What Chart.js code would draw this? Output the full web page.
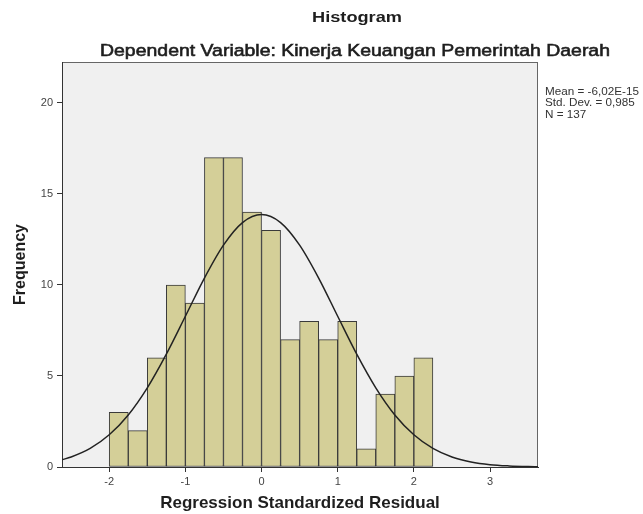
<!DOCTYPE html>
<html>
<head>
<meta charset="utf-8">
<script src="https://cdn.jsdelivr.net/npm/chart.js@4/dist/chart.umd.min.js"></script>
<style>
    body { margin: 0; background: #fff; }
    #wrap { width: 643px; height: 514px; }
</style>
</head>
<body>
<div id="wrap"><canvas id="histChart" width="643" height="514"></canvas></div>
<script>
// 数据
const binStarts = [-2, -1.75, -1.5, -1.25, -1, -0.75, -0.5, -0.25, 0, 0.25, 0.5, 0.75, 1, 1.25, 1.5, 1.75, 2];
const binWidth = 0.25;
const counts = [3, 2, 6, 10, 9, 17, 17, 14, 13, 7, 8, 7, 8, 1, 4, 5, 6];

// 正态曲线
const curveX = [-2.62, -2.5, -2.25, -2, -1.75, -1.5, -1.25, -1, -0.75, -0.5, -0.25, 0, 0.25, 0.5, 0.75, 1, 1.25, 1.5, 1.75, 2, 2.25, 2.5, 2.75, 3, 3.25, 3.5, 3.63];
const curveY = [0.40, 0.55, 1.02, 1.77, 2.86, 4.35, 6.20, 8.28, 10.38, 12.19, 13.43, 13.87, 13.43, 12.19, 10.38, 8.28, 6.20, 4.35, 2.86, 1.77, 1.02, 0.55, 0.28, 0.13, 0.06, 0.025, 0.016];

const xTicks = [-2, -1, 0, 1, 2, 3];
const yTicks = [0, 5, 10, 15, 20];
const statsLines = ['Mean = -6,02E-15', 'Std. Dev. = 0,985', 'N = 137'];

const titleText = 'Histogram';
const subtitleText = 'Dependent Variable: Kinerja Keuangan Pemerintah Daerah';

// 横向拉伸文字
function drawStretched(ctx, text, x, y, font, targetW, align, strokeW) {
    ctx.font = font;
    const w = ctx.measureText(text).width;
    ctx.save();
    ctx.translate(x, y);
    ctx.scale(targetW / w, 1);
    ctx.textAlign = align;
    ctx.textBaseline = 'alphabetic';
    ctx.fillText(text, 0, 0);
    if (strokeW) {
        ctx.lineWidth = strokeW;
        ctx.strokeStyle = ctx.fillStyle;
        ctx.strokeText(text, 0, 0);
    }
    ctx.restore();
}

const spssPlugin = {
    id: 'spssDecor',
    beforeDraw(chart) {
        const { ctx, chartArea: a } = chart;
        ctx.save();
        ctx.fillStyle = '#f0f0f0';
        ctx.fillRect(a.left, a.top, a.right - a.left, a.bottom - a.top);
        ctx.strokeStyle = '#666';
        ctx.lineWidth = 1;
        ctx.strokeRect(a.left + 0.5, a.top + 0.5, a.right - a.left - 1, a.bottom - a.top);
        ctx.restore();
    },
    afterDraw(chart) {
        const ctx = chart.ctx;
        ctx.save();
        ctx.fillStyle = '#1e1e1e';
        drawStretched(ctx, titleText, 357, 22, 'bold 14px "Liberation Sans", Arial, sans-serif', 90, 'center');
        drawStretched(ctx, subtitleText, 355, 56, '17px "Liberation Sans", Arial, sans-serif', 510, 'center', 0.6);
        ctx.fillStyle = '#333';
        ctx.font = '11px "Liberation Sans", Arial, sans-serif';
        const s = 94 / ctx.measureText(statsLines[0]).width;
        statsLines.forEach((t, i) => {
            ctx.save();
            ctx.translate(545, 95 + i * 11.3);
            ctx.scale(s, 1);
            ctx.textAlign = 'left';
            ctx.fillText(t, 0, 0);
            ctx.restore();
        });
        ctx.restore();
    }
};

const ctx = document.getElementById('histChart').getContext('2d');
new Chart(ctx, {
    type: 'bar',
    data: {
        datasets: [{
            type: 'line',
            label: 'Normal',
            data: curveX.map((x, i) => ({ x: x, y: curveY[i] })),
            borderColor: '#222',
            borderWidth: 1.5,
            pointRadius: 0,
            fill: false,
            cubicInterpolationMode: 'monotone',
            order: 0
        }, {
            type: 'bar',
            label: 'Frequency',
            data: counts.map((c, i) => ({ x: binStarts[i] + binWidth / 2, y: c })),
            backgroundColor: '#d4cf98',
            borderColor: '#3a3a3a',
            borderWidth: 1,
            borderSkipped: false,
            barPercentage: 1,
            categoryPercentage: 1,
            order: 1
        }]
    },
    options: {
        responsive: false,
        animation: false,
        layout: { padding: { top: 62, right: 105, left: 0, bottom: 0 } },
        plugins: {
            legend: { display: false },
            tooltip: { enabled: false }
        },
        scales: {
            x: {
                type: 'linear',
                min: -2.62,
                max: 3.63,
                offset: false,
                afterBuildTicks: s => { s.ticks = xTicks.map(v => ({ value: v })); },
                afterFit: s => { s.height = 47; },
                ticks: { color: '#444', font: { size: 11, family: '"Liberation Sans", Arial' }, padding: 3, maxRotation: 0 },
                grid: { drawOnChartArea: false, offset: false, tickLength: 5, color: '#333' },
                border: { color: '#333' },
                title: {
                    display: true,
                    text: 'Regression Standardized Residual',
                    color: '#1e1e1e',
                    font: { size: 17, weight: 'bold', family: '"Liberation Sans", Arial' },
                    padding: { top: 0, bottom: 0 }
                }
            },
            y: {
                min: 0,
                max: 22.25,
                afterBuildTicks: s => { s.ticks = yTicks.map(v => ({ value: v })); },
                afterFit: s => { s.width = 62; },
                ticks: { color: '#444', font: { size: 11, family: '"Liberation Sans", Arial' }, padding: 4 },
                grid: { drawOnChartArea: false, tickLength: 5, color: '#333' },
                border: { color: '#333' },
                title: {
                    display: true,
                    text: 'Frequency',
                    color: '#1e1e1e',
                    font: { size: 16, weight: 'bold', family: '"Liberation Sans", Arial' },
                    padding: { top: 11, bottom: 11 }
                }
            }
        }
    },
    plugins: [spssPlugin]
});
</script>
</body>
</html>
